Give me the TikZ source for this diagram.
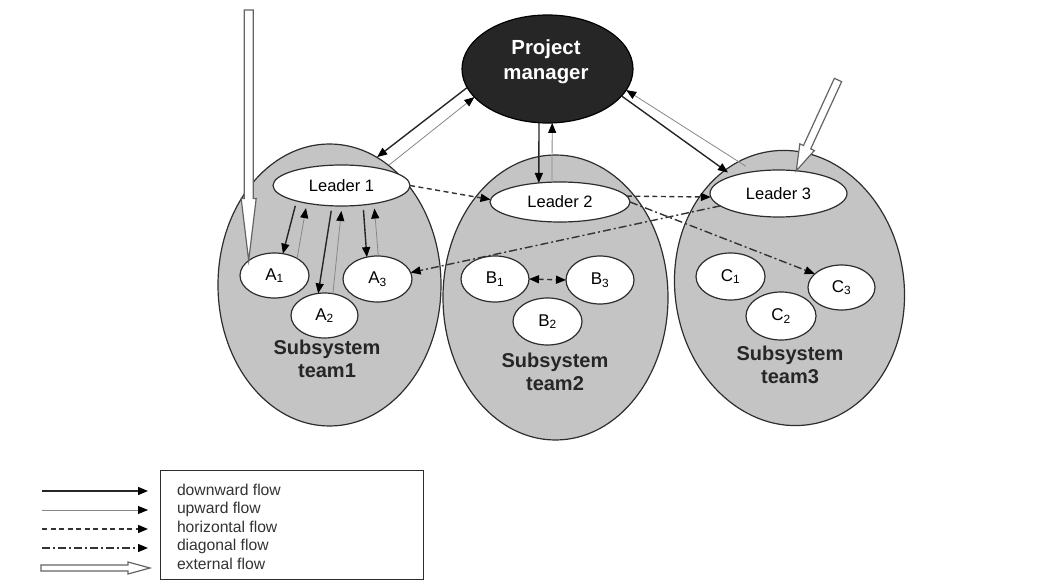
\documentclass[tikz,border=0pt]{standalone}
\usepackage{fontspec}
\setmainfont{Liberation Sans}
\usetikzlibrary{arrows.meta,calc,shapes.geometric}

\definecolor{teamgray}{RGB}{196,196,196}
\definecolor{pmfill}{RGB}{38,38,38}
\definecolor{upgray}{RGB}{135,135,135}
\definecolor{edgecol}{RGB}{45,45,45}
\definecolor{extcol}{RGB}{100,100,100}

\newcommand\extarrow[5]{%
  \coordinate (extH) at ($(#2)!#5!(#1)$);
  \draw[extflow] ($(#1)!#3!90:(#2)$) -- ($(extH)!#3!90:(#2)$) -- ($(extH)!#4!90:(#2)$) -- (#2)
    -- ($(extH)!#4!-90:(#2)$) -- ($(extH)!#3!-90:(#2)$) -- ($(#1)!#3!-90:(#2)$) -- cycle;}

\begin{document}
\begin{tikzpicture}[x=1pt,y=-1pt,
  every node/.style={inner sep=0pt, outer sep=0pt},
  team/.style={ellipse, draw=edgecol, line width=1.2pt, fill=teamgray},
  oval/.style={ellipse, draw=edgecol, line width=1.2pt, fill=white, font=\fontsize{16.5}{19}\selectfont},
  sub/.style={ellipse, draw=edgecol, line width=1.2pt, fill=white, font=\fontsize{17}{19}\selectfont},
  pmnode/.style={ellipse, draw=black, line width=1.2pt, fill=pmfill},
  pmtext/.style={align=center, text=white, font=\bfseries\fontsize{20.4}{25}\selectfont},
  teamtext/.style={align=center, text=black!85, font=\bfseries\fontsize{20}{23.5}\selectfont},
  legtext/.style={anchor=base west, text=black!80, font=\fontsize{15.7}{18}\selectfont},
  downflow/.style={line width=1.4pt, draw=black!85, -{Triangle[length=10pt,width=8pt,color=black]}},
  upflow/.style={line width=0.8pt, draw=upgray, -{Triangle[length=10pt,width=8pt,color=black]}},
  hflow/.style={line width=1.4pt, draw=black!80, dash pattern=on 5pt off 3.5pt, -{Triangle[length=10pt,width=8pt,color=black]}},
  dflow/.style={line width=1.4pt, draw=black!80, dash pattern=on 8pt off 3pt on 2pt off 3pt, -{Triangle[length=10pt,width=8pt,color=black]}},
  extflow/.style={draw=extcol, line width=1.2pt, fill=white, line join=miter}
]
\useasboundingbox (0,0) rectangle (1047,585);

% team ellipses
\node[team, minimum width=223, minimum height=282] (t1) at (329.5,285) {};
\node[team, minimum width=225, minimum height=285] (t2) at (555.5,297.5) {};
\node[team, minimum width=229, minimum height=276, rotate=8] (t3) at (789.5,288) {};

% project manager
\node[pmnode, minimum width=171, minimum height=108] (pm) at (547.5,69) {};
\node[pmtext] (pmlab) at (546,62) {Project\\manager};

% leaders
\node[oval, minimum width=137, minimum height=41] (l1) at (341.5,185.5) {Leader 1};
\node[oval, minimum width=140, minimum height=40] (l2) at (560,202) {Leader 2};
\node[oval, minimum width=137, minimum height=47] (l3) at (778.5,193.5) {Leader 3};

% members
\node[sub, minimum width=69, minimum height=45] (a1) at (274.5,275.5) {A\textsubscript{1}};
\node[sub, minimum width=67, minimum height=45] (a2) at (324.5,315.5) {A\textsubscript{2}};
\node[sub, minimum width=69, minimum height=46] (a3) at (377.5,279) {A\textsubscript{3}};
\node[sub, minimum width=68, minimum height=46] (b1) at (495,279) {B\textsubscript{1}};
\node[sub, minimum width=69, minimum height=47] (b2) at (547.5,321.5) {B\textsubscript{2}};
\node[sub, minimum width=68, minimum height=48] (b3) at (600,280) {B\textsubscript{3}};
\node[sub, minimum width=69, minimum height=47] (c1) at (730.5,276.5) {C\textsubscript{1}};
\node[sub, minimum width=70, minimum height=48] (c2) at (781,316) {C\textsubscript{2}};
\node[sub, minimum width=67, minimum height=45] (c3) at (841.5,287.5) {C\textsubscript{3}};

% team labels
\node[teamtext] (t1lab) at (327,359) {Subsystem\\team1};
\node[teamtext] (t2lab) at (555,372) {Subsystem\\team2};
\node[teamtext] (t3lab) at (790,365) {Subsystem\\team3};

% PM <-> leaders
\draw[downflow, shorten >=15pt] (pm.193) -- (l1.39);
\draw[upflow, shorten <=7pt] (l1.21) -- (pm.201);
\draw[downflow] (pm.261) -- (l2.138);
\draw[upflow] (l2.112) -- (pm.275);
\draw[downflow, shorten >=6pt] (pm.340) -- (l3.159);
\draw[upflow, shorten <=10pt] (l3.138) -- (pm.345);

% leader 1 <-> A members
\draw[downflow, shorten <=5pt] (l1.199) -- (a1.69);
\draw[upflow, shorten >=5pt] (a1.37) -- (l1.207);
\draw[downflow, shorten <=5pt] (l1.245) -- (a2.106);
\draw[upflow, shorten >=5pt] (a2.69) -- (l1.271);
\draw[downflow, shorten <=5pt] (l1.318) -- (a3.116);
\draw[upflow, shorten >=5pt] (a3.88) -- (l1.331);

% horizontal flows
\draw[hflow] (l1.east) -- (l2.178);
\draw[hflow] (l2.5) -- (l3.183);
\draw[hflow, {Triangle[length=10pt,width=8pt,color=black]}-{Triangle[length=10pt,width=8pt,color=black]}] (b1.east) -- (b3.west);

% diagonal flows
\draw[dflow] (l3.192) -- (a3.11);
\draw[dflow] (l2.east) -- (c3.153);

% external flows
\coordinate (ext1) at (248.7,10);
\extarrow{ext1}{a1.150}{4.5pt}{7.5pt}{62pt}
\coordinate (ext2) at (838,80);
\extarrow{ext2}{l3.52}{4pt}{8pt}{26pt}

% legend
\node[draw=edgecol, line width=1pt, minimum width=263, minimum height=109, anchor=north west] (legend) at (160,470) {};
\node[legtext] (lt1) at (177,495) {downward flow};
\node[legtext] (lt2) at (177,513.5) {upward flow};
\node[legtext] (lt3) at (177,532) {horizontal flow};
\node[legtext] (lt4) at (177,550.5) {diagonal flow};
\node[legtext] (lt5) at (177,569) {external flow};

\coordinate (lg1a) at (42,491);  \coordinate (lg1b) at (148,491);
\coordinate (lg2a) at (42,510);  \coordinate (lg2b) at (148,510);
\coordinate (lg3a) at (42,529);  \coordinate (lg3b) at (148,529);
\coordinate (lg4a) at (42,548);  \coordinate (lg4b) at (148,548);
\coordinate (lg5a) at (41,568);  \coordinate (lg5b) at (150,568);
\draw[downflow] (lg1a) -- (lg1b);
\draw[upflow] (lg2a) -- (lg2b);
\draw[hflow] (lg3a) -- (lg3b);
\draw[dflow] (lg4a) -- (lg4b);
\extarrow{lg5a}{lg5b}{3pt}{6pt}{22pt}
\end{tikzpicture}
\end{document}
